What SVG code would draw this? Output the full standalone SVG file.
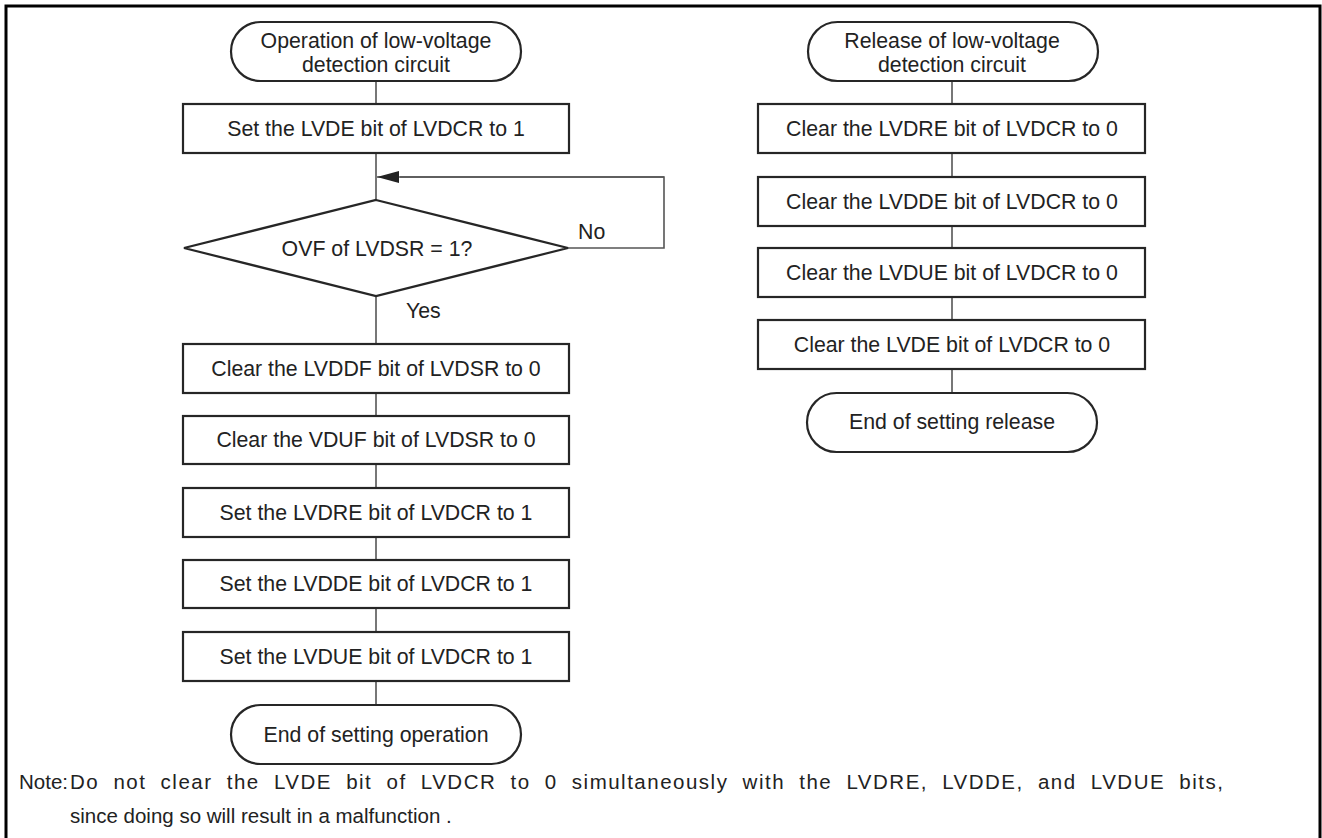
<svg xmlns="http://www.w3.org/2000/svg" width="1322" height="838" viewBox="0 0 1322 838">
<style>
.frame{fill:none;stroke:#000;stroke-width:3}
.box{fill:#fff;stroke:#262626;stroke-width:2.2}
.conn{fill:none;stroke:#555;stroke-width:1.6}
text{font-family:"Liberation Sans",Arial,sans-serif;font-size:21.3px;fill:#222}
.c{text-anchor:middle}
.note{font-size:20.5px}
</style>
<defs>
<marker id="ah" markerWidth="22" markerHeight="12" refX="22" refY="6" orient="auto" markerUnits="userSpaceOnUse">
<path d="M0,0 L22,6 L0,12 Z" fill="#222"/>
</marker>
</defs>
<rect width="1322" height="838" fill="#fff"/>
<polyline class="frame" points="6,845 6,6 1320,6 1320,845"/>
<g id="connectors">
<line class="conn" x1="376" y1="81" x2="376" y2="104"/>
<line class="conn" x1="376" y1="153" x2="376" y2="200"/>
<polyline class="conn" points="568,248 664,248 664,177 400,177"/>
<line class="conn" x1="664" y1="177" x2="377" y2="177" marker-end="url(#ah)"/>
<line class="conn" x1="376" y1="296" x2="376" y2="344"/>
<line class="conn" x1="376" y1="393" x2="376" y2="416"/>
<line class="conn" x1="376" y1="464" x2="376" y2="488"/>
<line class="conn" x1="376" y1="537" x2="376" y2="560"/>
<line class="conn" x1="376" y1="608" x2="376" y2="632"/>
<line class="conn" x1="376" y1="681" x2="376" y2="705"/>
<line class="conn" x1="952" y1="81" x2="952" y2="104"/>
<line class="conn" x1="952" y1="153" x2="952" y2="177"/>
<line class="conn" x1="952" y1="226" x2="952" y2="248"/>
<line class="conn" x1="952" y1="297" x2="952" y2="320"/>
<line class="conn" x1="952" y1="369" x2="952" y2="393"/>
<text x="578" y="239">No</text>
<text x="406" y="318">Yes</text>
</g>
<g id="start-op">
<rect class="box" x="231" y="22" width="290" height="59" rx="29.5"/>
<text class="c" x="376" y="48">Operation of low-voltage</text>
<text class="c" x="376" y="72">detection circuit</text>
</g>
<g id="set-lvde">
<rect class="box" x="183" y="104" width="386" height="49"/>
<text class="c" x="376" y="136">Set the LVDE bit of LVDCR to 1</text>
</g>
<g id="decision-ovf">
<polygon class="box" points="376,200 568,248 376,296 184,248"/>
<text class="c" x="377" y="256">OVF of LVDSR = 1?</text>
</g>
<g id="clear-lvddf">
<rect class="box" x="183" y="344" width="386" height="49"/>
<text class="c" x="376" y="376">Clear the LVDDF bit of LVDSR to 0</text>
</g>
<g id="clear-vduf">
<rect class="box" x="183" y="416" width="386" height="48"/>
<text class="c" x="376" y="447">Clear the VDUF bit of LVDSR to 0</text>
</g>
<g id="set-lvdre">
<rect class="box" x="183" y="488" width="386" height="49"/>
<text class="c" x="376" y="520">Set the LVDRE bit of LVDCR to 1</text>
</g>
<g id="set-lvdde">
<rect class="box" x="183" y="560" width="386" height="48"/>
<text class="c" x="376" y="591">Set the LVDDE bit of LVDCR to 1</text>
</g>
<g id="set-lvdue">
<rect class="box" x="183" y="632" width="386" height="49"/>
<text class="c" x="376" y="664">Set the LVDUE bit of LVDCR to 1</text>
</g>
<g id="end-op">
<rect class="box" x="231" y="705" width="290" height="59" rx="29.5"/>
<text class="c" x="376" y="742">End of setting operation</text>
</g>
<g id="start-rel">
<rect class="box" x="808" y="22" width="290" height="59" rx="29.5"/>
<text class="c" x="952" y="48">Release of low-voltage</text>
<text class="c" x="952" y="72">detection circuit</text>
</g>
<g id="clear-lvdre">
<rect class="box" x="758" y="104" width="387" height="49"/>
<text class="c" x="952" y="136">Clear the LVDRE bit of LVDCR to 0</text>
</g>
<g id="clear-lvdde">
<rect class="box" x="758" y="177" width="387" height="49"/>
<text class="c" x="952" y="209">Clear the LVDDE bit of LVDCR to 0</text>
</g>
<g id="clear-lvdue">
<rect class="box" x="758" y="248" width="387" height="49"/>
<text class="c" x="952" y="280">Clear the LVDUE bit of LVDCR to 0</text>
</g>
<g id="clear-lvde">
<rect class="box" x="758" y="320" width="387" height="49"/>
<text class="c" x="952" y="352">Clear the LVDE bit of LVDCR to 0</text>
</g>
<g id="end-rel">
<rect class="box" x="807" y="393" width="290" height="59" rx="29.5"/>
<text class="c" x="952" y="429">End of setting release</text>
</g>
<g id="note">
<text class="note" x="19" y="789">Note:</text>
<text class="note" x="70" y="789" letter-spacing="1.5" word-spacing="7">Do not clear the LVDE bit of LVDCR to 0 simultaneously with the LVDRE, LVDDE, and LVDUE bits,</text>
<text class="note" x="70" y="823">since doing so will result in a malfunction .</text>
</g>
</svg>
